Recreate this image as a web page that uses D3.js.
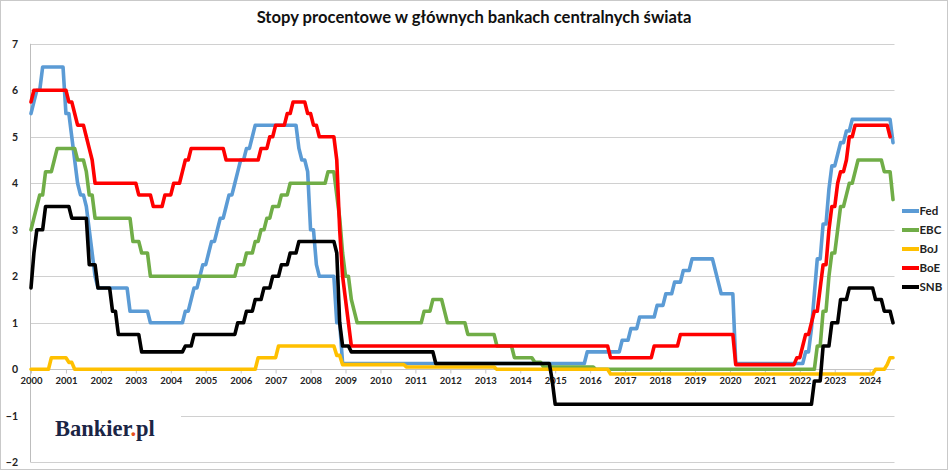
<!DOCTYPE html>
<html>
<head>
<meta charset="utf-8">
<script src="https://cdn.jsdelivr.net/npm/d3@7"></script>
<style>
  html, body { margin: 0; padding: 0; background: #fff; }
  svg { display: block; }
</style>
</head>
<body>
<svg id="chart" width="948" height="470"></svg>
<script>
// ---- Data (step changes: month "YYYY-MM" -> rate in %) ----
const titleText = "Stopy procentowe w głównych bankach centralnych świata";
const seriesNames = ["Fed", "EBC", "BoJ", "BoE", "SNB"];
const seriesColors = ["#5B9BD5", "#70AD47", "#FFC000", "#FF0000", "#000000"];
const seriesEnd = ["2024-09", "2024-09", "2024-09", "2024-08", "2024-09"];
const yTicks = [-2, -1, 0, 1, 2, 3, 4, 5, 6, 7];
const yearLabels = [2000,2001,2002,2003,2004,2005,2006,2007,2008,2009,2010,2011,2012,2013,2014,2015,2016,2017,2018,2019,2020,2021,2022,2023,2024];

const fedSteps = [
  ["2000-01",5.5],["2000-02",5.75],["2000-03",6.0],["2000-05",6.5],
  ["2001-01",5.5],["2001-03",5.0],["2001-04",4.5],["2001-05",4.0],["2001-06",3.75],["2001-08",3.5],["2001-09",3.0],["2001-10",2.5],["2001-11",2.0],["2001-12",1.75],
  ["2002-11",1.25],["2003-06",1.0],
  ["2004-06",1.25],["2004-08",1.5],["2004-09",1.75],["2004-11",2.0],["2004-12",2.25],
  ["2005-02",2.5],["2005-03",2.75],["2005-05",3.0],["2005-06",3.25],["2005-08",3.5],["2005-09",3.75],["2005-11",4.0],["2005-12",4.25],
  ["2006-01",4.5],["2006-03",4.75],["2006-05",5.0],["2006-06",5.25],
  ["2007-09",4.75],["2007-10",4.5],["2007-12",4.25],
  ["2008-01",3.0],["2008-03",2.25],["2008-04",2.0],["2008-10",1.0],["2008-12",0.125],
  ["2015-12",0.375],["2016-12",0.625],["2017-03",0.875],["2017-06",1.125],["2017-12",1.375],
  ["2018-03",1.625],["2018-06",1.875],["2018-09",2.125],["2018-12",2.375],
  ["2019-08",2.125],["2019-09",1.875],["2019-10",1.625],
  ["2020-03",0.125],
  ["2022-03",0.375],["2022-05",0.875],["2022-06",1.625],["2022-07",2.375],["2022-09",3.125],["2022-11",3.875],["2022-12",4.375],
  ["2023-02",4.625],["2023-03",4.875],["2023-05",5.125],["2023-07",5.375],
  ["2024-09",4.875]
];
const ebcSteps = [
  ["2000-01",3.0],["2000-02",3.25],["2000-03",3.5],["2000-04",3.75],["2000-06",4.25],["2000-09",4.5],["2000-10",4.75],
  ["2001-05",4.5],["2001-08",4.25],["2001-09",3.75],["2001-11",3.25],
  ["2002-12",2.75],["2003-03",2.5],["2003-06",2.0],
  ["2005-12",2.25],["2006-03",2.5],["2006-06",2.75],["2006-08",3.0],["2006-10",3.25],["2006-12",3.5],["2007-03",3.75],["2007-06",4.0],
  ["2008-07",4.25],["2008-10",3.75],["2008-11",3.25],["2008-12",2.5],
  ["2009-01",2.0],["2009-03",1.5],["2009-04",1.25],["2009-05",1.0],
  ["2011-04",1.25],["2011-07",1.5],["2011-11",1.25],["2011-12",1.0],
  ["2012-07",0.75],["2013-05",0.5],["2013-11",0.25],["2014-06",0.15],["2014-09",0.05],["2016-03",0.0],
  ["2022-07",0.5],["2022-09",1.25],["2022-11",2.0],["2022-12",2.5],
  ["2023-02",3.0],["2023-03",3.5],["2023-05",3.75],["2023-06",4.0],["2023-08",4.25],["2023-09",4.5],
  ["2024-06",4.25],["2024-09",3.65]
];
const bojSteps = [
  ["2000-01",0.0],["2000-08",0.25],["2001-02",0.15],["2001-04",0.0],
  ["2006-07",0.25],["2007-02",0.5],["2008-10",0.3],["2008-12",0.1],
  ["2010-10",0.05],["2013-05",0.0],["2016-08",-0.1],
  ["2024-03",0.0],["2024-07",0.1],["2024-08",0.25]
];
const boeSteps = [
  ["2000-01",5.75],["2000-02",6.0],["2001-02",5.75],["2001-04",5.5],["2001-05",5.25],["2001-08",5.0],["2001-09",4.75],["2001-10",4.5],["2001-11",4.0],
  ["2003-02",3.75],["2003-07",3.5],["2003-11",3.75],["2004-02",4.0],["2004-05",4.25],["2004-06",4.5],["2004-08",4.75],
  ["2005-08",4.5],["2006-08",4.75],["2006-11",5.0],["2007-01",5.25],["2007-05",5.5],["2007-07",5.75],["2007-12",5.5],
  ["2008-02",5.25],["2008-04",5.0],["2008-10",4.5],["2008-11",3.0],["2008-12",2.0],["2009-01",1.5],["2009-02",1.0],["2009-03",0.5],
  ["2016-08",0.25],["2017-11",0.5],["2018-08",0.75],["2020-03",0.1],
  ["2021-12",0.25],["2022-02",0.5],["2022-03",0.75],["2022-05",1.0],["2022-06",1.25],["2022-08",1.75],["2022-09",2.25],["2022-11",3.0],["2022-12",3.5],
  ["2023-02",4.0],["2023-03",4.25],["2023-05",4.5],["2023-06",5.0],["2023-08",5.25],["2024-08",5.0]
];
const snbSteps = [
  ["2000-01",1.75],["2000-02",2.5],["2000-03",3.0],["2000-06",3.5],["2001-03",3.25],["2001-09",2.25],["2001-12",1.75],
  ["2002-05",1.25],["2002-07",0.75],["2003-03",0.375],["2004-06",0.5],["2004-09",0.75],
  ["2005-12",1.0],["2006-03",1.25],["2006-06",1.5],["2006-09",1.75],["2006-12",2.0],["2007-03",2.25],["2007-06",2.5],["2007-09",2.75],
  ["2008-10",2.5],["2008-11",1.0],["2008-12",0.5],["2009-03",0.375],
  ["2011-08",0.125],["2014-12",-0.25],["2015-01",-0.75],
  ["2022-06",-0.25],["2022-09",0.5],["2022-12",1.0],["2023-03",1.5],["2023-06",1.75],
  ["2024-03",1.5],["2024-06",1.25],["2024-09",1.0]
];
const allSteps = [fedSteps, ebcSteps, bojSteps, boeSteps, snbSteps];

// ---- helpers ----
const monthIdx = s => { const [y, m] = s.split("-").map(Number); return (y - 2000) * 12 + (m - 1); };
function monthly(steps, end) {
  const last = monthIdx(end), out = [];
  const map = new Map(steps.map(d => [monthIdx(d[0]), d[1]]));
  let v = steps[0][1];
  for (let i = 0; i <= last; i++) { if (map.has(i)) v = map.get(i); out.push({ i, v }); }
  return out;
}

// ---- layout ----
const W = 948, H = 470;
const SANS = "Lato, 'Open Sans', sans-serif";
const svg = d3.select("#chart");
svg.append("rect").attr("x", 0.5).attr("y", 0.5).attr("width", W - 1).attr("height", H - 1)
  .attr("fill", "#fff").attr("stroke", "#c9c9c9");

const x = d3.scaleLinear().domain([0, 296]).range([31, 893]);
const y = d3.scaleLinear().domain([-2, 7]).range([462.3, 43.8]);
const plotLeft = 30.5, plotRight = 894.5;

// gridlines
svg.append("g").selectAll("line").data(yTicks).join("line")
  .attr("x1", plotLeft).attr("x2", plotRight)
  .attr("y1", d => Math.round(y(d)) + 0.5).attr("y2", d => Math.round(y(d)) + 0.5)
  .attr("stroke", "#d0d0d0").attr("stroke-width", 1);

// left axis line
svg.append("line").attr("x1", plotLeft).attr("x2", plotLeft)
  .attr("y1", y(7)).attr("y2", y(-2)).attr("stroke", "#bdbdbd");

// y labels
const yAxis = d3.axisLeft(y).tickValues(yTicks).tickSize(0).tickPadding(0).tickFormat(d3.format("d"));
const gy = svg.append("g").attr("transform", "translate(18,0)").call(yAxis);
gy.select(".domain").remove();
gy.selectAll("text").style("font-family", SANS).style("font-weight", 700)
  .style("font-size", "10.5px").attr("fill", "#222");

// x axis at y=0
const xAxis = d3.axisBottom(x).tickValues(yearLabels.map(yr => (yr - 2000) * 12))
  .tickSize(4).tickPadding(4).tickFormat((d, k) => yearLabels[k]);
const gx = svg.append("g").attr("transform", `translate(0,${Math.round(y(0)) + 0.5})`).call(xAxis);
gx.select(".domain").attr("stroke", "#c4c4c4").attr("d", `M${plotLeft},0H${plotRight}`);
gx.selectAll(".tick line").attr("stroke", "#c4c4c4");
gx.selectAll("text").style("font-family", SANS).style("font-weight", 700)
  .style("font-size", "9.5px").attr("fill", "#222");

// logo box and text
svg.append("rect").attr("x", 31).attr("y", y(-1) - 20).attr("width", 150).attr("height", 40).attr("fill", "#fff");
const logo = svg.append("text").attr("x", 55).attr("y", 435.5)
  .style("font-family", "'Liberation Serif', 'DejaVu Serif', serif").style("font-weight", 700)
  .style("font-size", "22.5px").attr("fill", "#1b2545");
logo.append("tspan").text("Bankier");
logo.append("tspan").attr("fill", "#e8501c").text(".");
logo.append("tspan").text("pl");

// lines
const line = d3.line().x(d => x(d.i)).y(d => y(d.v));
allSteps.forEach((steps, k) => {
  svg.append("path").datum(monthly(steps, seriesEnd[k]))
    .attr("d", line).attr("fill", "none")
    .attr("stroke", seriesColors[k]).attr("stroke-width", 3.6)
    .attr("stroke-linejoin", "round").attr("stroke-linecap", "round");
});

// legend
const legY = [211, 230, 249, 268, 287];
const leg = svg.append("g").selectAll("g").data(seriesNames).join("g")
  .attr("transform", (d, k) => `translate(0,${legY[k]})`);
leg.append("line").attr("x1", 902).attr("x2", 919).attr("y1", 0).attr("y2", 0)
  .attr("stroke", (d, k) => seriesColors[k]).attr("stroke-width", 4);
leg.append("text").attr("x", 919.5).attr("y", 0).attr("dy", "0.36em")
  .style("font-family", SANS).style("font-weight", 700).style("font-size", "11.5px")
  .attr("fill", "#222").text(d => d);

// title
const title = svg.append("text").attr("x", 474).attr("y", 23.3).attr("text-anchor", "middle")
  .style("font-family", SANS).style("font-weight", 700).style("font-size", "16px")
  .attr("fill", "#111").text(titleText);
const tl = title.node().getComputedTextLength();
title.style("font-size", (16 * 435 / tl).toFixed(2) + "px");
</script>
</body>
</html>
